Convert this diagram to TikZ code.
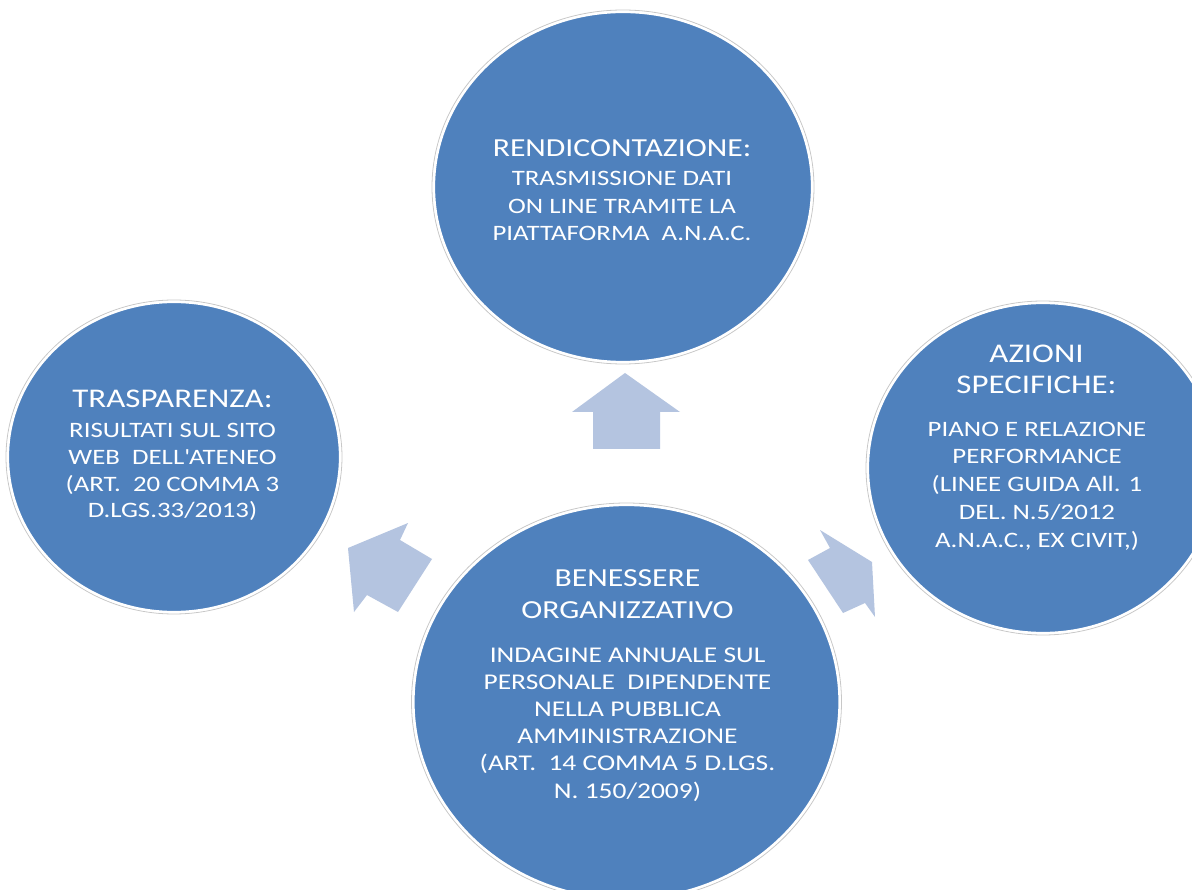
\documentclass[tikz,border=0pt]{standalone}
\usepackage{fontspec}
\setmainfont{Carlito}[FakeStretch=1.22]
\usetikzlibrary{shapes.geometric}
\definecolor{circblue}{RGB}{79,129,189}
\definecolor{arrowblue}{RGB}{180,196,224}
\definecolor{rimgray}{RGB}{200,200,200}
\tikzset{
  bubble/.style={ellipse, fill=circblue, draw=white, line width=2.2pt, inner sep=0pt},
  rim/.style={draw=rimgray, line width=0.8pt},
  blockarrow/.style={fill=arrowblue, draw=none},
  titletxt/.style={text=white, align=center, anchor=base, inner sep=0pt, font=\fontsize{27}{31}\selectfont},
  subtxt/.style={text=white, align=center, anchor=base, inner sep=0pt, font=\fontsize{22}{27.5}\selectfont}
}
\begin{document}
\begin{tikzpicture}[x=1pt,y=-1pt]
\useasboundingbox (0,0) rectangle (1192,890);
\fill[white] (0,0) rectangle (1192,890);
% block arrows
\fill[blockarrow] (625,373) -- (680,412) -- (660,412) -- (660,449) -- (593,449) -- (593,412) -- (572,412) -- cycle;
\fill[blockarrow] (348,548) -- (408,523) -- (400,540) -- (432,559) -- (398,612) -- (367,595) -- (354,612) -- cycle;
\fill[blockarrow] (820,530) -- (830,548) -- (808,560) -- (843,613) -- (865,603) -- (875,617) -- (872,562) -- cycle;
% circles
\draw[rim] (623,187) ellipse [x radius=191pt, y radius=177pt];
\node[bubble, minimum width=378pt, minimum height=350pt] (top) at (623,187) {};
\draw[rim] (174,457) ellipse [x radius=168pt, y radius=157pt];
\node[bubble, minimum width=332pt, minimum height=310pt] (left) at (174,457) {};
\draw[rim] (1043,468) ellipse [x radius=177pt, y radius=167pt];
\node[bubble, minimum width=350pt, minimum height=330pt] (right) at (1043,468) {};
\draw[rim] (626.5,702) ellipse [x radius=215pt, y radius=199pt];
\node[bubble, minimum width=426pt, minimum height=394pt] (bottom) at (626.5,702) {};
% texts (anchor base = baseline of last line)
\node[titletxt, font=\fontsize{26}{31}\selectfont] (toptitle) at (622,157) {RENDICONTAZIONE:};
\node[subtxt] (topsub) at (622,241) {TRASMISSIONE DATI\\ON LINE TRAMITE LA\\PIATTAFORMA~~A.N.A.C.};
\node[titletxt] (lefttitle) at (172.5,408) {TRASPARENZA:};
\node[subtxt, font=\fontsize{22}{27}\selectfont] (leftsub) at (172.5,518) {RISULTATI SUL SITO\\WEB~~DELL\textquotesingle ATENEO\\(ART.~~20 COMMA 3\\D.LGS.33/2013)};
\node[titletxt] (righttitle) at (1036.5,394) {AZIONI\\SPECIFICHE:};
\node[subtxt, font=\fontsize{22}{27.7}\selectfont] (rightsub) at (1037,547) {PIANO E RELAZIONE\\PERFORMANCE\\(LINEE GUIDA All. 1\\DEL. N.5/2012\\A.N.A.C., EX CIVIT,)};
\node[titletxt, font=\fontsize{26}{32}\selectfont] (bottomtitle) at (627.5,618) {BENESSERE\\ORGANIZZATIVO};
\node[subtxt, font=\fontsize{22.5}{27.2}\selectfont] (bottomsub) at (627.5,798) {INDAGINE ANNUALE SUL\\PERSONALE~~DIPENDENTE\\NELLA PUBBLICA\\AMMINISTRAZIONE\\(ART.~~14 COMMA 5 D.LGS.\\N. 150/2009)};
\end{tikzpicture}
\end{document}
